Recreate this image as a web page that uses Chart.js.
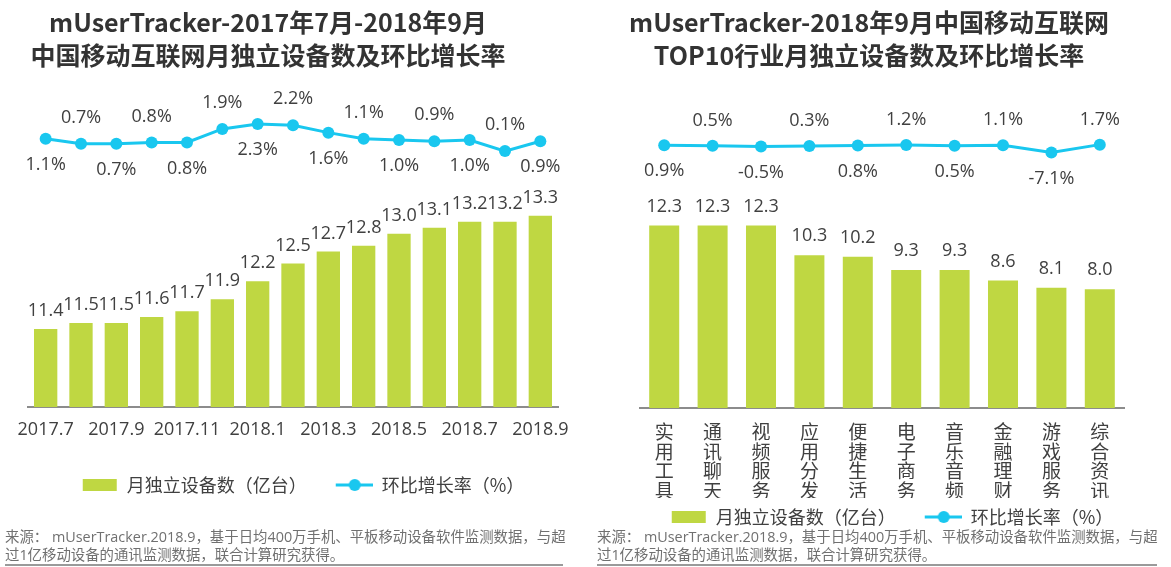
<!DOCTYPE html>
<html>
<head>
<meta charset="utf-8">
<script src="https://cdn.jsdelivr.net/npm/chart.js@4.4.0/dist/chart.umd.min.js"></script>
<style>
  body { margin: 0; background: #fff; }
  #wrap { position: relative; width: 1171px; height: 567px; overflow: hidden; font-family: "Noto Sans CJK SC", sans-serif; }
  canvas { position: absolute; top: 0; }
  .title { position: absolute; top: 5px; font-weight: bold; font-size: 25px; line-height: 33px; color: #333; text-align: center; white-space: nowrap; }
  .note { position: absolute; top: 528px; font-family: "Open Sans", "Noto Sans CJK SC", sans-serif; font-size: 14.4px; line-height: 18px; color: #707070; white-space: nowrap; border-bottom: 2px solid #9a9a9a; }
</style>
</head>
<body>
<div id="wrap">
  <canvas id="left" width="585" height="567" style="left:0"></canvas>
  <canvas id="right" width="586" height="567" style="left:585px"></canvas>
  <div class="title" style="left:0;width:536px">mUserTracker-2017年7月-2018年9月<br>中国移动互联网月独立设备数及环比增长率</div>
  <div class="title" style="left:569px;width:600px">mUserTracker-2018年9月中国移动互联网<br>TOP10行业月独立设备数及环比增长率</div>
  <div class="note" style="left:5px;width:558px">来源： mUserTracker.2018.9，基于日均400万手机、平板移动设备软件监测数据，与超<br>过1亿移动设备的通讯监测数据，联合计算研究获得。</div>
  <div class="note" style="left:597px;width:560px">来源： mUserTracker.2018.9，基于日均400万手机、平板移动设备软件监测数据，与超<br>过1亿移动设备的通讯监测数据，联合计算研究获得。</div>
</div>
<script>
  // colours / fonts
  var GREEN = '#bfd742';
  var BLUE = '#19c7ef';
  var TEXT = '#404040';
  var FONT = '"Noto Sans CJK SC", sans-serif';
  var NUM_FONT = '"Open Sans", "Noto Sans CJK SC", sans-serif';

  // left chart data
  var months = ['2017.7', '2017.8', '2017.9', '2017.10', '2017.11', '2017.12', '2018.1', '2018.2',
                '2018.3', '2018.4', '2018.5', '2018.6', '2018.7', '2018.8', '2018.9'];
  var devices = [11.4, 11.5, 11.5, 11.6, 11.7, 11.9, 12.2, 12.5, 12.7, 12.8, 13.0, 13.1, 13.2, 13.2, 13.3];
  var growth = [1.1, 0.7, 0.7, 0.8, 0.8, 1.9, 2.3, 2.2, 1.6, 1.1, 1.0, 0.9, 1.0, 0.1, 0.9];

  // right chart data
  var industries = ['实用工具', '通讯聊天', '视频服务', '应用分发', '便捷生活', '电子商务', '音乐音频', '金融理财', '游戏服务', '综合资讯'];
  var indDevices = [12.3, 12.3, 12.3, 10.3, 10.2, 9.3, 9.3, 8.6, 8.1, 8.0];
  var indGrowth = [0.9, 0.5, -0.5, 0.3, 0.8, 1.2, 0.5, 1.1, -7.1, 1.7];

  var barLabel = '月独立设备数（亿台）';
  var lineLabel = '环比增长率（%）';

  // legend swatches (20px empty on the left = gap between items)
  var SW = 56;
  function barSwatch() {
      var c = document.createElement('canvas');
      c.width = SW; c.height = 12;
      var g = c.getContext('2d');
      g.fillStyle = GREEN;
      g.fillRect(SW - 35, 0, 34, 12);
      return c;
  }
  function lineSwatch() {
      var c = document.createElement('canvas');
      c.width = SW; c.height = 14;
      var g = c.getContext('2d');
      g.strokeStyle = BLUE; g.lineWidth = 3;
      g.beginPath(); g.moveTo(SW - 37, 7); g.lineTo(SW, 7); g.stroke();
      g.fillStyle = BLUE;
      g.beginPath(); g.arc(SW - 18, 7, 6, 0, Math.PI * 2); g.fill();
      return c;
  }
  var BAR_IMG = barSwatch();
  var LINE_IMG = lineSwatch();

  // value labels on bars and points
  var valueLabels = {
      id: 'valueLabels',
      afterDatasetsDraw: function(chart, args, opts) {
          var ctx = chart.ctx;
          ctx.save();
          ctx.fillStyle = TEXT;
          ctx.textAlign = 'center';
          ctx.textBaseline = 'middle';
          chart.data.datasets.forEach(function(ds, di) {
              var meta = chart.getDatasetMeta(di);
              meta.data.forEach(function(el, i) {
                  var v = ds.data[i];
                  if (ds.type === 'line') {
                      ctx.font = opts.lineFont + 'px ' + NUM_FONT;
                      var dy = i % 2 === 0 ? opts.below : -opts.above;
                      ctx.fillText(v.toFixed(1) + '%', el.x, el.y + dy);
                  } else {
                      ctx.font = opts.barFont + 'px ' + NUM_FONT;
                      ctx.fillText(v.toFixed(1), el.x, el.y - opts.barGap);
                  }
              });
          });
          ctx.restore();
      }
  };

  function legendOpts() {
      return {
          position: 'bottom',
          labels: {
              usePointStyle: true,
              pointStyleWidth: SW,
              padding: 10,
              color: TEXT,
              font: { family: FONT, size: 18 },
              generateLabels: function(chart) {
                  return chart.data.datasets.map(function(ds, i) {
                      return {
                          text: ds.label,
                          pointStyle: i === 0 ? BAR_IMG : LINE_IMG,
                          fillStyle: i === 0 ? GREEN : BLUE,
                          strokeStyle: i === 0 ? GREEN : BLUE,
                          lineWidth: 0,
                          hidden: false,
                          fontColor: TEXT,
                          datasetIndex: i
                      };
                  });
              }
          }
      };
  }

  function makeChart(id, cfg) {
      return new Chart(document.getElementById(id), {
          type: 'bar',
          data: {
              labels: cfg.labels,
              datasets: [{
                  type: 'bar',
                  label: barLabel,
                  data: cfg.bars,
                  backgroundColor: GREEN,
                  barPercentage: cfg.barPct,
                  categoryPercentage: 1,
                  yAxisID: 'y',
                  order: 2
              }, {
                  type: 'line',
                  label: lineLabel,
                  data: cfg.line,
                  borderColor: BLUE,
                  backgroundColor: BLUE,
                  borderWidth: 3,
                  pointRadius: 6,
                  pointBackgroundColor: BLUE,
                  pointBorderWidth: 0,
                  tension: 0,
                  yAxisID: 'y1',
                  order: 1
              }]
          },
          options: {
              responsive: false,
              animation: false,
              layout: { padding: cfg.padding },
              plugins: {
                  legend: legendOpts(),
                  tooltip: { enabled: false },
                  valueLabels: cfg.labelOpts
              },
              scales: {
                  x: {
                      grid: { display: false, drawTicks: false },
                      border: { display: true, color: '#8c8c8c', width: 2 },
                      ticks: {
                          autoSkip: false,
                          maxRotation: 0,
                          padding: cfg.tickPad,
                          color: TEXT,
                          font: { family: cfg.tickFamily, size: cfg.tickFont, lineHeight: cfg.tickLine },
                          callback: cfg.tickCb
                      },
                      afterFit: function(scale) { scale.height = cfg.xHeight; }
                  },
                  y: { display: false, min: cfg.yMin, max: cfg.yMax },
                  y1: { display: false, min: cfg.y1Min, max: cfg.y1Max }
              }
          },
          plugins: [valueLabels]
      });
  }

  makeChart('left', {
      labels: months,
      bars: devices,
      line: growth,
      barPct: 0.66,
      padding: { top: 95, left: 28, right: 27, bottom: 63 },
      xHeight: 59,
      tickPad: 12,
      tickFamily: NUM_FONT,
      tickFont: 18,
      tickLine: 1.2,
      tickCb: function(v, i) { return i % 2 === 0 ? this.getLabelForValue(v) : ''; },
      yMin: 10.09, yMax: 15.33,
      y1Min: -20.7, y1Max: 4.66,
      labelOpts: { barFont: 18, lineFont: 18, barGap: 18, above: 26, below: 26 }
  });

  makeChart('right', {
      labels: industries,
      bars: indDevices,
      line: indGrowth,
      barPct: 0.62,
      padding: { top: 95, left: 55, right: 47, bottom: 31 },
      xHeight: 90,
      tickPad: 14,
      tickFamily: FONT,
      tickFont: 19,
      tickLine: 1.03,
      tickCb: function(v) { return this.getLabelForValue(v).split(''); },
      yMin: 0, yMax: 21.1,
      y1Min: -292.8, y1Max: 57.2,
      labelOpts: { barFont: 18, lineFont: 18, barGap: 19, above: 25, below: 26 }
  });
</script>
</body>
</html>
